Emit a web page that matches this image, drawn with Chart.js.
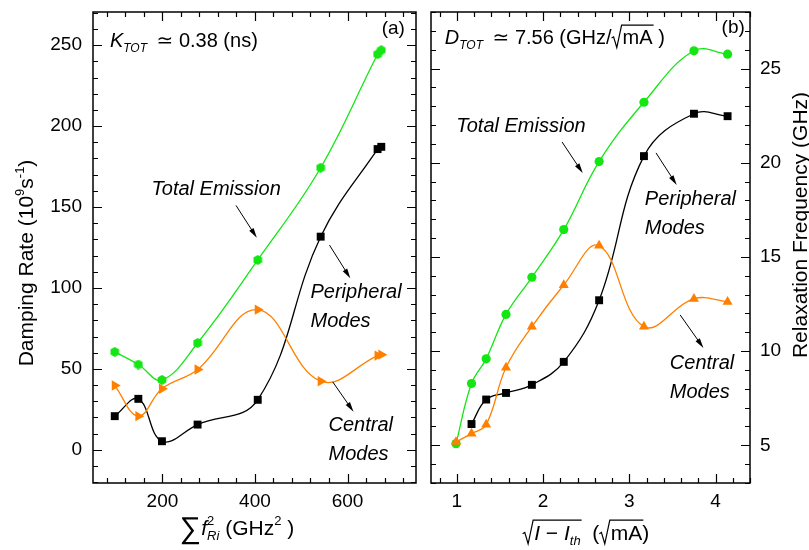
<!DOCTYPE html>
<html>
<head>
<meta charset="utf-8">
<script src="https://cdn.jsdelivr.net/npm/chart.js@4.4.1/dist/chart.umd.min.js"></script>
<style>
  body { margin: 0; background: #fff; }
  .wrap { position: relative; width: 809px; height: 550px; }
  canvas { position: absolute; top: 0; }
</style>
</head>
<body>
<div class="wrap">
  <canvas id="rate" width="422" height="550" style="left:0"></canvas>
  <canvas id="freq" width="387" height="550" style="left:422px"></canvas>
</div>
<script>
// panel (a): damping rate against sum of f_Ri^2
const sumF2 = [97, 148, 199, 276, 406, 542, 665, 673];
const rateTotal = [60.5, 52.7, 43.2, 66.0, 117.3, 174.3, 244.4, 246.9];
const ratePeripheral = [20.8, 31.5, 5.3, 15.6, 30.9, 131.7, 185.8, 187.2];
const rateCentral = [39.7, 20.8, 37.7, 49.6, 86.6, 42.4, 58.2, 58.8];
const rateXTicks = [200, 400, 600];
const rateYTicks = [0, 50, 100, 150, 200, 250];

// panel (b): relaxation frequency against sqrt(I - Ith)
const sqrtI = [0.99, 1.17, 1.34, 1.57, 1.87, 2.24, 2.65, 3.17, 3.75, 4.14];
const freqTotal = [5.09, 8.28, 9.59, 11.95, 13.92, 16.45, 20.06, 23.21, 25.94, 25.76];
const freqPeripheral = [null, 6.13, 7.43, 7.78, 8.21, 9.43, 12.7, 20.35, 22.6, 22.47];
const freqCentral = [5.18, 5.62, 6.1, 9.13, 11.3, 13.51, 15.6, 11.3, 12.78, 12.62];
const freqXTicks = [1, 2, 3, 4];
const freqYTicks = [5, 10, 15, 20, 25];

const GREEN = '#14e614';
const ORANGE = '#ff8000';
const FONT = "'Liberation Sans', Arial, 'DejaVu Sans', sans-serif";

const fontOf = p => (p.i ? 'italic ' : '') + (p.s || 20) + 'px ' + FONT;

// draws a row of text pieces (sub/superscripts, radicals) starting from a baseline
function rich(ctx, parts, x, y, align) {
    const pos = [];
    const wid = [];
    let cur = 0;
    let start = 0;
    parts.forEach(p => {
        let w;
        if (p.rad) {
            w = (p.s || 20) * 0.55;
        } else {
            ctx.font = fontOf(p);
            w = ctx.measureText(p.t).width;
        }
        wid.push(w);
        if (p.stack) {
            pos.push(start);
            cur = Math.max(cur, start + w);
        } else {
            start = cur;
            pos.push(cur);
            cur += w;
        }
    });
    const x0 = align === 'center' ? x - cur / 2 : align === 'right' ? x - cur : x;
    ctx.fillStyle = '#000';
    ctx.strokeStyle = '#000';
    ctx.textAlign = 'left';
    ctx.textBaseline = 'alphabetic';
    parts.forEach((p, i) => {
        const px = x0 + pos[i];
        if (p.rad) {
            const s = p.s || 20;
            const last = i + p.rad;
            const end = x0 + pos[last] + wid[last] + 1;
            ctx.lineWidth = 1.2;
            ctx.beginPath();
            ctx.moveTo(px, y - 0.3 * s);
            ctx.lineTo(px + 0.1 * s, y - 0.36 * s);
            ctx.lineTo(px + 0.26 * s, y + 0.18 * s);
            ctx.lineTo(px + 0.5 * s, y - 0.95 * s);
            ctx.lineTo(end, y - 0.95 * s);
            ctx.stroke();
        } else {
            ctx.font = fontOf(p);
            ctx.fillText(p.t, px, y + (p.dy || 0));
        }
    });
}

function hexagon(size, color) {
    const c = document.createElement('canvas');
    c.width = c.height = size;
    const g = c.getContext('2d');
    const r = size / 2;
    g.fillStyle = color;
    g.beginPath();
    for (let i = 0; i < 6; i++) {
        const a = Math.PI / 6 + i * Math.PI / 3;
        g.lineTo(r + r * Math.cos(a), r + r * Math.sin(a));
    }
    g.closePath();
    g.fill();
    return c;
}

function series(xs, ys, color, style, radius, rotation) {
    return {
        data: xs.map((x, i) => ({ x, y: ys[i] })).filter(p => p.y !== null),
        borderColor: color,
        backgroundColor: color,
        borderWidth: 1.3,
        pointStyle: style,
        pointRadius: radius,
        pointRotation: rotation || 0,
        pointBorderWidth: 0,
        tension: 0.4
    };
}

function axis(min, max, ticks, position, size, pad) {
    return {
        type: 'linear',
        position,
        min,
        max,
        afterBuildTicks: s => { s.ticks = ticks.map(v => ({ value: v })); },
        afterFit: s => {
            if (s.isHorizontal()) s.height = size; else s.width = size;
            s.paddingTop = s.paddingBottom = s.paddingLeft = s.paddingRight = 0;
        },
        grid: { display: false, drawTicks: false },
        border: { display: false },
        ticks: { color: '#000', padding: pad, autoSkip: false, maxRotation: 0, font: { family: FONT, size: 19 } }
    };
}

// box around the plot, with major and minor ticks pointing inwards on all sides
const framePlugin = {
    id: 'frame',
    afterDraw(chart, args, opts) {
        const { ctx, chartArea: a, scales: { x, y } } = chart;
        ctx.save();
        ctx.strokeStyle = '#000';
        ctx.lineWidth = 1.5;
        ctx.strokeRect(a.left, a.top, a.right - a.left, a.bottom - a.top);
        ctx.lineWidth = 1.2;
        ctx.beginPath();
        const mark = (scale, v, len) => {
            const p = Math.round(scale.getPixelForValue(v)) + 0.5;
            if (scale.isHorizontal()) {
                ctx.moveTo(p, a.bottom); ctx.lineTo(p, a.bottom - len);
                ctx.moveTo(p, a.top); ctx.lineTo(p, a.top + len);
            } else {
                ctx.moveTo(a.left, p); ctx.lineTo(a.left + len, p);
                ctx.moveTo(a.right, p); ctx.lineTo(a.right - len, p);
            }
        };
        [[x, opts.xMinor], [y, opts.yMinor]].forEach(([scale, step]) => {
            const major = scale.ticks.map(t => t.value);
            for (let k = Math.ceil(scale.min / step - 1e-9); k * step <= scale.max + 1e-9; k++) {
                const v = k * step;
                if (!major.some(m => Math.abs(m - v) < step / 100)) mark(scale, v, 5);
            }
            major.forEach(v => mark(scale, v, 9));
        });
        ctx.stroke();
        ctx.restore();
    }
};

// italic labels with arrows placed in data units, plus axis titles
const notesPlugin = {
    id: 'notes',
    afterDraw(chart, args, opts) {
        const { ctx, scales: { x, y } } = chart;
        ctx.save();
        ctx.fillStyle = '#000';
        ctx.strokeStyle = '#000';
        (opts.notes || []).forEach(n => {
            ctx.font = 'italic 20px ' + FONT;
            ctx.textAlign = n.align;
            ctx.textBaseline = 'middle';
            n.lines.forEach((t, i) => ctx.fillText(t, x.getPixelForValue(n.x), y.getPixelForValue(n.y) + i * 29));
            const [x1, y1, x2, y2] = n.arrow.map((v, i) => i % 2 ? y.getPixelForValue(v) : x.getPixelForValue(v));
            const ang = Math.atan2(y2 - y1, x2 - x1);
            ctx.lineWidth = 1;
            ctx.beginPath();
            ctx.moveTo(x1, y1);
            ctx.lineTo(x2 - 6 * Math.cos(ang), y2 - 6 * Math.sin(ang));
            ctx.stroke();
            ctx.beginPath();
            ctx.moveTo(x2, y2);
            ctx.lineTo(x2 - 10 * Math.cos(ang) + 2.6 * Math.sin(ang), y2 - 10 * Math.sin(ang) - 2.6 * Math.cos(ang));
            ctx.lineTo(x2 - 10 * Math.cos(ang) - 2.6 * Math.sin(ang), y2 - 10 * Math.sin(ang) + 2.6 * Math.cos(ang));
            ctx.closePath();
            ctx.fill();
        });
        (opts.texts || []).forEach(t => {
            const px = t.data ? x.getPixelForValue(t.x) : t.x;
            const py = t.data ? y.getPixelForValue(t.y) : t.y;
            if (t.rotate) {
                ctx.save();
                ctx.translate(px, py);
                ctx.rotate(-Math.PI / 2);
                rich(ctx, t.parts, 0, 7, t.align);
                ctx.restore();
            } else {
                rich(ctx, t.parts, px, py, t.align);
            }
        });
        ctx.restore();
    }
};

function makeChart(id, datasets, scales, padding, frame, notes) {
    return new Chart(document.getElementById(id), {
        type: 'line',
        data: { datasets },
        options: {
            responsive: false,
            animation: false,
            events: [],
            layout: { padding },
            scales,
            plugins: {
                legend: { display: false },
                tooltip: { enabled: false },
                frame,
                notes
            }
        },
        plugins: [framePlugin, notesPlugin]
    });
}

makeChart('rate', [
    series(sumF2, rateCentral, ORANGE, 'triangle', 6, 90),
    series(sumF2, ratePeripheral, '#000', 'rect', 5.6),
    series(sumF2, rateTotal, GREEN, hexagon(10, GREEN), 5)
], {
    x: axis(50, 748, rateXTicks, 'bottom', 67, 7),
    y: axis(-20.5, 270.5, rateYTicks, 'left', 93, 11)
}, { left: 0, top: 12, right: 4, bottom: 0 }, { xMinor: 40, yMinor: 10 }, {
    notes: [
        { lines: ['Total Emission'], x: 316, y: 161, align: 'center', arrow: [359, 151, 404, 131] },
        { lines: ['Peripheral', 'Modes'], x: 520, y: 97, align: 'left', arrow: [561, 126.5, 606, 106] },
        { lines: ['Central', 'Modes'], x: 559, y: 15, align: 'left', arrow: [568, 42, 613, 23.5] }
    ],
    texts: [
        { data: true, x: 86.5, y: 249, align: 'left', parts: [
            { t: 'K', i: true }, { t: 'TOT', i: true, s: 12, dy: 5 }, { t: '\u2009 \u2243 0.38 (ns)' }
        ] },
        { data: true, x: 724, y: 257, align: 'right', parts: [{ t: '(a)', s: 19 }] },
        { x: 237, y: 535, align: 'center', parts: [
            { t: '\u2211', s: 30, dy: 3 }, { t: 'f', i: true, s: 21 },
            { t: '2', s: 13, dy: -10 }, { t: 'Ri', i: true, s: 13, dy: 5, stack: true },
            { t: ' (GHz', s: 21 }, { t: '2', s: 13, dy: -10 }, { t: ' )', s: 21 }
        ] },
        { x: 26, y: 263, rotate: true, align: 'center', parts: [
            { t: 'Damping Rate (10', s: 21 }, { t: '9', s: 13, dy: -9 }, { t: 's', s: 21 },
            { t: '-1', s: 13, dy: -9 }, { t: ')', s: 21 }
        ] }
    ]
});

makeChart('freq', [
    series(sqrtI, freqCentral, ORANGE, 'triangle', 5.8),
    series(sqrtI, freqPeripheral, '#000', 'rect', 5.6),
    series(sqrtI, freqTotal, GREEN, 'circle', 4.6)
], {
    x: axis(0.7, 4.4, freqXTicks, 'bottom', 67, 7),
    y: axis(3, 28, freqYTicks, 'right', 59, 10)
}, { left: 9, top: 12, right: 0, bottom: 0 }, { xMinor: 0.2, yMinor: 1 }, {
    notes: [
        { lines: ['Total Emission'], x: 1.744, y: 21.95, align: 'center', arrow: [2.22, 21.1, 2.46, 19.45] },
        { lines: ['Peripheral', 'Modes'], x: 3.18, y: 18.07, align: 'left', arrow: [3.31, 20.52, 3.55, 18.82] },
        { lines: ['Central', 'Modes'], x: 3.47, y: 9.37, align: 'left', arrow: [3.59, 11.92, 3.86, 10.17] }
    ],
    texts: [
        { data: true, x: 0.86, y: 26.3, align: 'left', parts: [
            { t: 'D', i: true }, { t: 'TOT', i: true, s: 12, dy: 5 }, { t: '\u2009 \u2243 7.56 (GHz/' },
            { rad: 1 }, { t: 'mA' }, { t: ' )' }
        ] },
        { data: true, x: 4.34, y: 26.9, align: 'right', parts: [{ t: '(b)', s: 19 }] },
        { x: 164, y: 540, align: 'center', parts: [
            { rad: 4, s: 21 }, { t: 'I', i: true, s: 21 }, { t: ' \u2212 ', s: 21 }, { t: 'I', i: true, s: 21 },
            { t: 'th', i: true, s: 13, dy: 5 }, { t: '  (', s: 21 }, { rad: 1, s: 21 }, { t: 'mA', s: 21 }, { t: ')', s: 21 }
        ] },
        { x: 378, y: 225, rotate: true, align: 'center', parts: [{ t: 'Relaxation Frequency (GHz)', s: 21 }] }
    ]
});
</script>
</body>
</html>
